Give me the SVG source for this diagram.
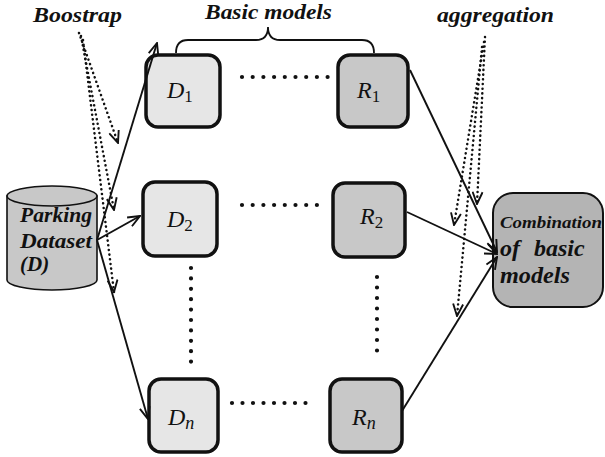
<svg xmlns="http://www.w3.org/2000/svg" width="605" height="457" viewBox="0 0 605 457">
  <style>
    text { font-family: 'Liberation Serif', 'Times New Roman', serif; }
    .lbl { font-weight: bold; font-style: italic; fill: #111; }
    .var { font-style: italic; font-size: 24px; fill: #111; }
    .sub { font-style: normal; font-size: 17px; }
    .subn { font-style: italic; font-size: 18px; }
    .dbox { fill: #e6e6e6; stroke: #111; stroke-width: 3.5; }
    .rbox { fill: #c8c8c8; stroke: #111; stroke-width: 3.5; }
    .edge { fill: none; stroke: #111; stroke-width: 1.9; }
    .dotted { fill: none; stroke: #111; stroke-width: 2.5; stroke-dasharray: 0.1 4.6; stroke-linecap: round; }
    .dots { fill: none; stroke: #111; stroke-width: 4.2; stroke-linecap: round; }
  </style>
  <defs>
    <marker id="arrow" viewBox="0 0 14 12" refX="13" refY="6" markerWidth="14" markerHeight="12" markerUnits="userSpaceOnUse" orient="auto">
      <path d="M1,1 L13,6 L1,11" fill="none" stroke="#111" stroke-width="1.9"/>
    </marker>
  </defs>

  <rect width="605" height="457" fill="#ffffff"/>

  <!-- titles -->
  <text class="lbl" x="33" y="22" font-size="22" textLength="89" lengthAdjust="spacingAndGlyphs">Boostrap</text>
  <text class="lbl" x="205" y="19" font-size="22" textLength="127" lengthAdjust="spacingAndGlyphs">Basic models</text>
  <text class="lbl" x="437" y="22" font-size="22" textLength="117" lengthAdjust="spacingAndGlyphs">aggregation</text>

  <!-- brace over the basic models -->
  <path d="M176,53 Q176,40 188,40 L256,40 Q268,40 268,27 Q268,40 280,40 L362,40 Q374,40 374,53" fill="none" stroke="#111" stroke-width="1.8"/>

  <!-- dataset cylinder -->
  <g id="dataset">
    <path d="M7,196 L7,280 A45,10 0 0 0 97,280 L97,196 Z" fill="#c8c8c8" stroke="#111" stroke-width="1.6"/>
    <ellipse cx="52" cy="196" rx="45" ry="10" fill="#c8c8c8" stroke="#111" stroke-width="1.6"/>
    <text class="lbl" x="20" y="222" font-size="21" textLength="72" lengthAdjust="spacingAndGlyphs">Parking</text>
    <text class="lbl" x="20" y="248" font-size="21" textLength="72" lengthAdjust="spacingAndGlyphs">Dataset</text>
    <text class="lbl" x="20" y="271" font-size="21">(D)</text>
  </g>

  <!-- bootstrap samples -->
  <g id="d1">
    <rect class="dbox" x="146" y="55" width="74" height="72" rx="12"/>
    <text class="var" x="167" y="98">D<tspan class="sub" dy="4">1</tspan></text>
  </g>
  <g id="d2">
    <rect class="dbox" x="143" y="182" width="74" height="74" rx="12"/>
    <text class="var" x="167" y="227">D<tspan class="sub" dy="4">2</tspan></text>
  </g>
  <g id="dn">
    <rect class="dbox" x="149" y="379" width="69" height="73" rx="12"/>
    <text class="var" x="168" y="425">D<tspan class="subn" dy="4">n</tspan></text>
  </g>

  <!-- basic model results -->
  <g id="r1">
    <rect class="rbox" x="338" y="55" width="70" height="72" rx="12"/>
    <text class="var" x="357" y="98">R<tspan class="sub" dy="4">1</tspan></text>
  </g>
  <g id="r2">
    <rect class="rbox" x="333" y="183" width="72" height="74" rx="12"/>
    <text class="var" x="360" y="224">R<tspan class="sub" dy="4">2</tspan></text>
  </g>
  <g id="rn">
    <rect class="rbox" x="330" y="379" width="72" height="73" rx="12"/>
    <text class="var" x="352" y="425">R<tspan class="subn" dy="4">n</tspan></text>
  </g>

  <!-- combined model -->
  <g id="combination">
    <rect x="493" y="193" width="110" height="114" rx="20" fill="#b4b4b4" stroke="#111" stroke-width="2"/>
    <text class="lbl" x="500" y="228" font-size="17" textLength="102" lengthAdjust="spacingAndGlyphs">Combination</text>
    <text class="lbl" y="256" font-size="24"><tspan x="500">of</tspan><tspan x="534">basic</tspan></text>
    <text class="lbl" x="500" y="283" font-size="24" textLength="70" lengthAdjust="spacingAndGlyphs">models</text>
  </g>

  <!-- ellipsis dots between boxes -->
  <g id="ellipses">
    <path class="dots" d="M242,77 L328,77" stroke-dasharray="0 10.7"/>
    <path class="dots" d="M242,205 L317,205" stroke-dasharray="0 10.7"/>
    <path class="dots" d="M232,403 L306,403" stroke-dasharray="0 10.5"/>
    <path class="dots" d="M191,268 L191,362" stroke-dasharray="0 10.4"/>
    <path class="dots" d="M377,277 L377,361" stroke-dasharray="0 10.5"/>
  </g>

  <!-- connectors -->
  <g id="connectors">
    <line class="edge" x1="97" y1="240" x2="157" y2="43" marker-end="url(#arrow)"/>
    <line class="edge" x1="97" y1="240" x2="140" y2="216" marker-end="url(#arrow)"/>
    <line class="edge" x1="97" y1="240" x2="148" y2="419" marker-end="url(#arrow)"/>

    <line class="edge" x1="410" y1="70" x2="497" y2="252" marker-end="url(#arrow)"/>
    <line class="edge" x1="407" y1="212" x2="497" y2="254" marker-end="url(#arrow)"/>
    <line class="edge" x1="402" y1="411" x2="497" y2="257" marker-end="url(#arrow)"/>

    <!-- bootstrap sampling hints -->
    <line class="dotted" x1="79" y1="33" x2="118" y2="143" marker-end="url(#arrow)"/>
    <line class="dotted" x1="81" y1="36" x2="114" y2="210" marker-end="url(#arrow)"/>
    <line class="dotted" x1="83" y1="40" x2="114" y2="292" marker-end="url(#arrow)"/>

    <!-- aggregation hints -->
    <line class="dotted" x1="485" y1="37" x2="477" y2="204" marker-end="url(#arrow)"/>
    <line class="dotted" x1="484" y1="42" x2="454" y2="225" marker-end="url(#arrow)"/>
    <line class="dotted" x1="482" y1="47" x2="457" y2="316" marker-end="url(#arrow)"/>
  </g>
</svg>
